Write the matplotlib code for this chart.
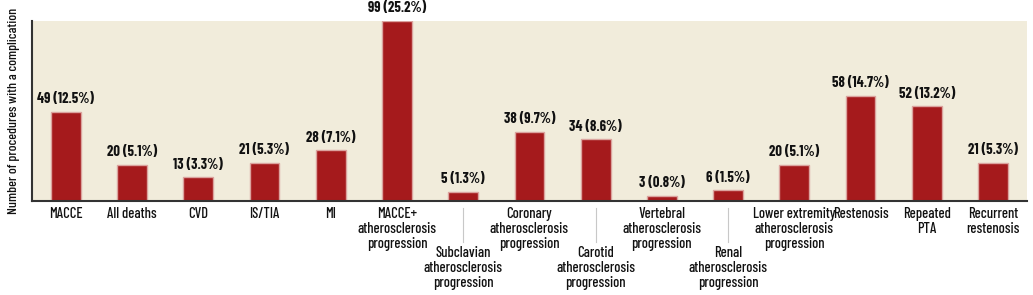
import numpy as np
import matplotlib.pyplot as plt

labels = ['MACCE', 'All deaths', 'CVD', 'IS/TIA', 'MI',
          'MACCE+\natherosclerosis\nprogression',
          'Subclavian\natherosclerosis\nprogression',
          'Coronary\natherosclerosis\nprogression',
          'Carotid\natherosclerosis\nprogression',
          'Vertebral\natherosclerosis\nprogression',
          'Renal\natherosclerosis\nprogression',
          'Lower extremity\natherosclerosis\nprogression',
          'Restenosis', 'Repeated\nPTA', 'Recurrent\nrestenosis']
counts = [49, 20, 13, 21, 28, 99, 5, 38, 34, 3, 6, 20, 58, 52, 21]
percents = [12.5, 5.1, 3.3, 5.3, 7.1, 25.2, 1.3, 9.7, 8.6, 0.8, 1.5, 5.1, 14.7, 13.2, 5.3]
lowered = [6, 8, 10]  # labels pushed down a row

plt.rcParams['font.family'] = ['Barlow Condensed', 'Roboto Condensed', 'DejaVu Sans']

fig = plt.figure(figsize=(10.33, 2.95), dpi=100)
ax = fig.add_axes([0.031, 0.3186, 0.963, 0.6102])
ax.set_facecolor('#f1ecdb')

x = np.arange(len(counts))
ax.bar(x, counts, width=0.45, color='#a51a1c', edgecolor='#dba39e', linewidth=1, zorder=2)

for i, (c, p) in enumerate(zip(counts, percents)):
    ax.annotate(f'{c} ({p}%)', (i, c), xytext=(0, 4), textcoords='offset points',
                ha='center', va='bottom', fontsize=10.5, fontweight='bold',
                color='#111111', annotation_clip=False)

ax.set_xlim(-0.51, len(counts) - 0.49)
ax.set_ylim(0, 99)
ax.set_xticks([])
ax.set_yticks([])

tr = ax.get_xaxis_transform()
for i, lab in enumerate(labels):
    if i in lowered:
        ax.text(i, -0.25, lab, transform=tr, ha='center', va='top',
                fontsize=10.5, fontweight='medium', linespacing=1.08, color='#111111')
        ax.plot([i, i], [-0.04, -0.23], transform=tr, color='#c8c8c8',
                linewidth=0.8, clip_on=False)
    else:
        ax.text(i, -0.033, lab, transform=tr, ha='center', va='top',
                fontsize=10.5, fontweight='medium', linespacing=1.08, color='#111111')

for s in ['top', 'right']:
    ax.spines[s].set_visible(False)
for s in ['left', 'bottom']:
    ax.spines[s].set_color('#333333')
    ax.spines[s].set_linewidth(1.5)

fig.text(0.0135, 0.624, 'Number of procedures with a complication', rotation=90,
         ha='center', va='center', fontsize=10, fontweight='medium', color='#111111')

fig.savefig('out.png', dpi=100)
